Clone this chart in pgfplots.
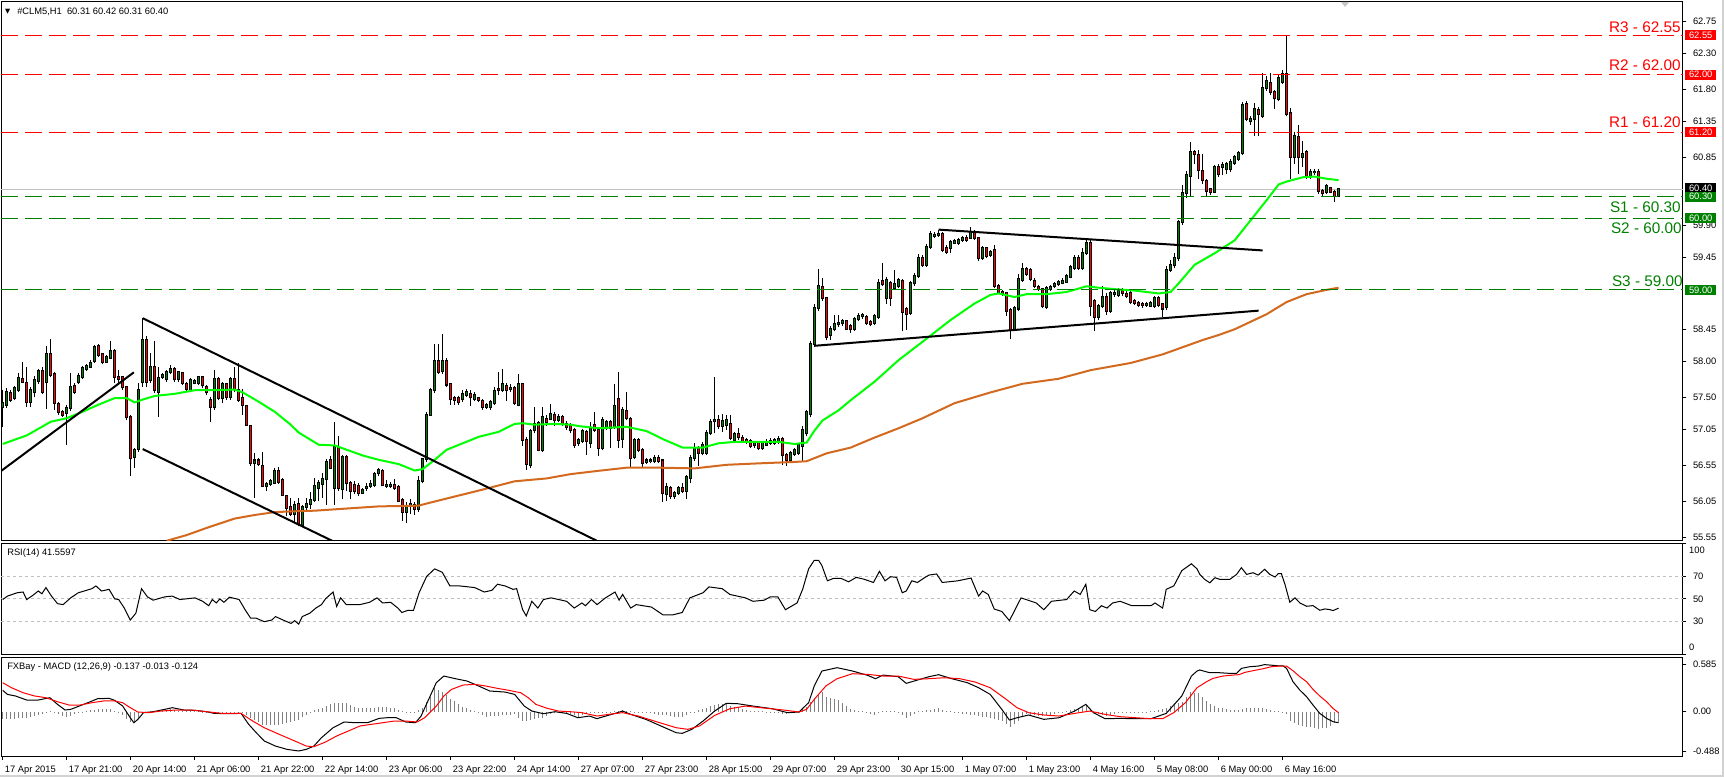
\documentclass[border=0pt]{standalone}
\usepackage{pgfplots}
\pgfplotsset{compat=1.18}
\usepackage{pgfplotstable}
\usepackage{fontspec}
\setmainfont{Liberation Sans}
\newfontfamily\dejavu{DejaVu Sans}
\definecolor{bullc}{RGB}{0,128,0}
\definecolor{bearc}{RGB}{255,0,0}
\definecolor{maf}{RGB}{0,255,0}
\definecolor{mas}{RGB}{210,105,30}
\definecolor{lvlg}{RGB}{0,128,0}
\definecolor{lvlr}{RGB}{255,0,0}
\definecolor{rsil}{RGB}{192,192,192}
\definecolor{histc}{RGB}{128,128,128}
\definecolor{bidl}{RGB}{192,192,192}
\newcommand\mtf{\fontsize{7}{8.4}\selectfont}

\pgfplotstableread{
i o h l c
0 57.37 57.61 57.09 57.42
1 57.40 57.63 57.35 57.58
3 57.49 57.66 57.46 57.63
4 57.61 57.84 57.58 57.77
7 57.44 57.65 57.37 57.60
8 57.58 57.80 57.50 57.74
9 57.73 57.90 57.68 57.87
11 57.72 58.22 57.34 58.10
16 57.28 57.40 56.84 57.35
17 57.35 57.84 57.31 57.65
19 57.71 57.84 57.68 57.80
20 57.78 57.94 57.76 57.91
21 57.89 57.97 57.87 57.94
22 57.93 58.02 57.91 57.98
23 58.01 58.23 57.98 58.20
26 58.00 58.09 57.98 58.06
27 58.05 58.28 58.03 58.15
33 56.67 56.80 56.51 56.77
34 56.78 57.70 56.74 57.61
35 57.71 58.61 57.65 58.30
37 57.74 58.12 57.70 57.92
39 57.58 57.93 57.23 57.77
40 57.79 57.84 57.76 57.81
41 57.75 57.88 57.72 57.86
42 57.85 57.95 57.82 57.90
44 57.75 57.87 57.72 57.85
47 57.61 57.77 57.58 57.74
48 57.70 57.76 57.68 57.73
49 57.70 57.80 57.67 57.78
53 57.37 57.88 57.33 57.75
55 57.49 57.72 57.42 57.68
57 57.51 57.78 57.47 57.75
63 56.58 56.73 56.10 56.62
66 56.27 56.32 56.20 56.29
67 56.29 56.36 56.26 56.33
68 56.31 56.52 56.29 56.47
73 55.88 56.05 55.75 56.00
75 55.72 56.00 55.70 55.97
76 55.97 56.10 55.90 56.02
77 56.02 56.18 55.95 56.07
78 56.07 56.38 56.04 56.26
79 56.23 56.35 56.05 56.30
80 56.29 56.45 56.10 56.36
81 56.36 56.64 56.00 56.60
83 56.23 57.15 56.00 56.81
85 56.22 56.70 56.08 56.67
90 56.17 56.24 56.15 56.21
91 56.24 56.30 56.20 56.25
92 56.27 56.35 56.24 56.29
93 56.28 56.46 56.25 56.43
94 56.44 56.52 56.40 56.49
96 56.27 56.35 56.24 56.28
97 56.26 56.32 56.24 56.28
101 55.90 56.04 55.75 55.98
102 55.98 56.08 55.88 56.02
104 55.94 56.40 55.90 56.34
105 56.34 56.66 56.30 56.64
106 56.64 57.30 56.60 57.26
107 57.26 57.63 57.25 57.61
108 57.60 58.25 57.56 58.01
110 57.87 58.38 57.83 58.01
115 57.48 57.60 57.44 57.55
116 57.54 57.62 57.50 57.57
118 57.48 57.58 57.45 57.54
121 57.37 57.42 57.34 57.39
122 57.37 57.46 57.33 57.43
123 57.42 57.64 57.40 57.59
125 57.61 57.90 57.58 57.68
127 57.62 57.68 57.58 57.63
129 57.40 57.83 57.38 57.69
132 56.56 57.06 56.52 57.03
133 57.04 57.36 57.00 57.13
135 56.76 57.37 56.74 57.22
137 57.20 57.41 57.18 57.27
139 57.19 57.27 57.15 57.23
144 56.86 56.94 56.82 56.90
145 56.89 57.06 56.86 57.03
147 56.87 57.16 56.80 57.07
150 56.79 57.22 56.76 57.18
151 57.08 57.18 57.05 57.15
153 57.09 57.68 57.06 57.38
155 56.92 57.37 56.80 57.32
158 56.67 56.93 56.64 56.90
161 56.60 56.66 56.57 56.62
162 56.61 56.66 56.58 56.62
163 56.61 56.69 56.58 56.66
166 56.15 56.30 56.05 56.25
168 56.12 56.20 56.09 56.17
169 56.17 56.26 56.14 56.23
171 56.20 56.42 56.08 56.39
172 56.38 56.69 56.31 56.66
173 56.65 56.86 56.62 56.79
175 56.73 56.88 56.69 56.83
176 56.73 57.05 56.70 57.01
177 57.01 57.20 56.98 57.15
178 57.17 57.79 57.00 57.18
180 57.10 57.27 57.02 57.17
181 57.11 57.26 57.05 57.18
183 56.91 57.02 56.86 56.99
188 56.83 56.89 56.80 56.86
190 56.79 56.89 56.77 56.86
191 56.84 56.92 56.82 56.87
192 56.87 56.93 56.84 56.89
193 56.87 56.94 56.84 56.90
194 56.88 56.96 56.85 56.92
197 56.63 56.75 56.60 56.72
198 56.71 56.80 56.68 56.76
199 56.73 56.86 56.70 56.83
200 56.82 57.10 56.60 57.05
201 57.00 57.33 56.96 57.30
202 57.27 58.29 57.22 58.25
203 58.25 58.80 58.20 58.74
204 58.75 59.29 58.71 59.05
207 58.37 58.50 58.30 58.46
208 58.45 58.65 58.42 58.52
209 58.52 58.65 58.48 58.54
210 58.54 58.60 58.50 58.56
213 58.46 58.62 58.43 58.59
214 58.59 58.68 58.56 58.64
215 58.63 58.68 58.60 58.65
218 58.54 58.67 58.51 58.64
219 58.62 59.15 58.60 59.10
221 58.88 59.18 58.80 59.14
223 59.03 59.27 59.00 59.08
224 59.05 59.17 59.02 59.14
227 58.68 59.12 58.65 59.09
228 59.09 59.23 59.06 59.20
229 59.19 59.50 59.16 59.44
231 59.35 59.64 59.32 59.60
232 59.60 59.82 59.57 59.78
233 59.75 59.80 59.72 59.77
234 59.76 59.84 59.74 59.78
237 59.58 59.70 59.52 59.67
238 59.66 59.71 59.64 59.68
239 59.66 59.72 59.63 59.70
240 59.69 59.75 59.67 59.72
242 59.73 59.87 59.71 59.81
245 59.44 59.61 59.41 59.58
247 59.49 59.56 59.46 59.53
253 58.45 58.77 58.42 58.74
254 58.74 59.22 58.71 59.15
255 59.14 59.37 59.11 59.29
261 58.76 59.05 58.73 59.02
262 59.01 59.07 58.98 59.04
263 59.05 59.11 59.03 59.08
264 59.08 59.14 59.06 59.11
265 59.10 59.16 59.08 59.13
266 59.11 59.22 59.09 59.19
267 59.18 59.35 59.16 59.32
268 59.31 59.48 59.28 59.45
270 59.31 59.59 59.28 59.52
271 59.51 59.70 59.48 59.66
274 58.62 58.80 58.58 58.77
275 58.77 59.05 58.74 58.90
277 58.71 58.98 58.68 58.95
278 58.94 59.00 58.90 58.96
279 58.93 59.03 58.90 58.99
286 58.79 58.83 58.76 58.80
287 58.78 58.85 58.76 58.82
288 58.78 58.92 58.75 58.89
291 58.76 59.33 58.72 59.28
292 59.28 59.42 59.25 59.35
293 59.34 59.52 59.30 59.45
294 59.44 59.98 59.40 59.95
295 59.94 60.46 59.91 60.35
296 60.35 60.66 60.28 60.60
297 60.59 61.06 60.30 60.92
303 60.37 60.74 60.35 60.71
305 60.72 60.78 60.60 60.74
306 60.68 60.79 60.62 60.76
307 60.68 60.82 60.64 60.79
308 60.77 60.88 60.74 60.85
309 60.83 60.94 60.80 60.91
310 60.91 61.62 60.88 61.58
312 61.35 61.42 61.30 61.38
313 61.38 61.60 61.14 61.52
315 61.43 62.03 61.40 61.82
316 61.82 61.98 61.78 61.91
319 61.66 62.00 61.63 61.95
320 61.90 62.06 61.87 62.01
323 60.85 61.20 60.75 61.15
325 60.85 61.08 60.72 60.89
327 60.59 60.68 60.55 60.65
328 60.64 60.68 60.60 60.65
331 60.37 60.48 60.33 60.45
334 60.31 60.42 60.31 60.40
}\bull

\pgfplotstableread{
i o h l c
2 57.56 57.60 57.44 57.47
5 57.75 58.00 57.70 57.72
6 57.70 57.93 57.37 57.43
10 57.87 57.93 57.55 57.58
12 58.10 58.31 57.78 57.81
13 57.82 57.86 57.33 57.42
14 57.41 57.44 57.26 57.30
15 57.29 57.32 57.22 57.26
18 57.66 57.70 57.55 57.58
24 58.21 58.25 58.07 58.09
25 58.10 58.12 57.97 58.00
28 58.15 58.17 57.70 57.78
29 57.79 57.88 57.70 57.75
30 57.78 57.80 57.60 57.64
31 57.64 57.66 57.19 57.22
32 57.23 57.25 56.40 56.65
36 58.30 58.35 57.65 57.71
38 57.92 58.28 57.56 57.60
43 57.90 57.93 57.72 57.75
45 57.84 57.86 57.67 57.70
46 57.69 57.71 57.58 57.62
50 57.78 57.80 57.63 57.67
51 57.64 57.67 57.54 57.57
52 57.47 57.50 57.15 57.37
54 57.75 57.78 57.46 57.49
56 57.68 57.70 57.47 57.51
58 57.75 57.92 57.58 57.62
59 57.61 57.98 57.44 57.47
60 57.49 57.62 57.26 57.40
61 57.38 57.40 57.10 57.12
62 57.10 57.12 56.55 56.59
64 56.62 56.66 56.54 56.57
65 56.55 56.74 56.25 56.27
69 56.48 56.53 56.29 56.32
70 56.35 56.37 56.12 56.14
71 56.12 56.14 55.85 55.96
72 55.97 56.10 55.84 55.88
74 56.02 56.10 55.70 55.74
82 56.63 56.68 56.50 56.52
84 56.81 56.96 56.20 56.23
86 56.67 56.70 56.20 56.30
87 56.30 56.33 56.08 56.20
88 56.28 56.33 56.15 56.20
89 56.27 56.30 56.12 56.16
95 56.47 56.50 56.26 56.28
98 56.28 56.36 56.21 56.23
99 56.25 56.28 56.04 56.06
100 56.07 56.10 55.78 55.90
103 56.00 56.04 55.86 55.94
109 58.01 58.24 57.83 57.86
111 58.01 58.05 57.65 57.68
112 57.68 57.70 57.40 57.48
113 57.49 57.52 57.40 57.47
114 57.49 57.52 57.40 57.43
117 57.55 57.60 57.38 57.50
119 57.49 57.51 57.44 57.47
120 57.45 57.48 57.33 57.36
124 57.62 57.85 57.53 57.60
126 57.66 57.70 57.45 57.60
128 57.63 57.66 57.40 57.42
130 57.68 57.70 56.82 56.91
131 56.91 56.95 56.49 56.57
134 57.14 57.17 56.75 56.77
136 57.20 57.25 57.10 57.16
138 57.26 57.30 57.10 57.19
140 57.22 57.26 57.10 57.13
141 57.13 57.17 57.05 57.09
142 57.11 57.14 57.00 57.04
143 57.05 57.07 56.80 56.84
146 57.02 57.05 56.70 56.89
148 57.11 57.30 57.02 57.05
149 57.05 57.08 56.68 56.79
152 57.15 57.18 56.80 57.08
154 57.48 57.85 56.80 56.91
156 57.31 57.57 57.18 57.21
157 57.20 57.22 56.52 56.66
159 56.90 56.93 56.74 56.77
160 56.76 56.79 56.52 56.58
164 56.66 56.69 56.58 56.61
165 56.62 56.64 56.04 56.16
167 56.24 56.27 56.08 56.12
170 56.24 56.30 56.16 56.20
174 56.79 56.82 56.55 56.73
179 57.19 57.26 57.06 57.10
182 57.13 57.26 56.90 56.93
184 56.99 57.07 56.91 56.95
185 56.94 56.97 56.86 56.89
186 56.90 56.93 56.85 56.88
187 56.89 56.92 56.80 56.82
189 56.86 56.89 56.76 56.79
195 56.92 56.95 56.56 56.69
196 56.70 56.73 56.55 56.63
205 59.04 59.17 58.85 58.89
206 58.88 58.90 58.30 58.34
211 58.56 58.58 58.44 58.46
212 58.49 58.52 58.40 58.45
216 58.62 58.65 58.51 58.54
217 58.55 58.58 58.49 58.52
220 59.12 59.37 59.05 59.08
222 59.09 59.12 58.78 58.88
225 59.12 59.15 58.42 58.69
226 58.73 58.76 58.44 58.67
230 59.44 59.48 59.32 59.35
235 59.78 59.81 59.53 59.56
236 59.59 59.62 59.50 59.53
241 59.73 59.76 59.67 59.70
243 59.81 59.84 59.69 59.72
244 59.72 59.74 59.40 59.44
246 59.58 59.60 59.44 59.47
248 59.56 59.63 59.02 59.05
249 59.05 59.08 58.94 58.97
250 58.97 59.00 58.92 58.95
251 58.95 58.97 58.64 58.71
252 58.72 58.75 58.31 58.44
256 59.29 59.32 59.19 59.22
257 59.28 59.30 59.12 59.15
258 59.13 59.16 59.03 59.06
259 59.04 59.07 58.98 59.01
260 59.01 59.03 58.74 58.77
269 59.45 59.48 59.28 59.31
272 59.66 59.70 58.63 58.77
273 58.84 58.87 58.43 58.62
276 58.90 58.95 58.65 58.71
280 58.99 59.02 58.91 58.95
281 58.94 58.98 58.88 58.92
282 58.96 58.98 58.80 58.83
283 58.84 58.87 58.79 58.82
284 58.81 58.84 58.76 58.79
285 58.80 58.83 58.75 58.79
289 58.89 58.92 58.76 58.79
290 58.80 58.82 58.62 58.74
298 60.92 60.95 60.75 60.89
299 60.88 60.95 60.55 60.67
300 60.66 60.90 60.48 60.53
301 60.52 60.55 60.30 60.38
302 60.40 60.42 60.32 60.36
304 60.72 60.75 60.58 60.62
311 61.59 61.64 61.35 61.38
314 61.51 61.55 61.15 61.45
317 61.89 62.03 61.72 61.76
318 61.76 61.79 61.52 61.67
321 62.01 62.55 61.42 61.45
322 61.46 61.53 60.55 60.85
324 61.13 61.30 60.62 60.85
326 60.92 60.95 60.55 60.59
329 60.65 60.68 60.33 60.38
330 60.38 60.40 60.30 60.35
332 60.42 60.44 60.35 60.37
333 60.37 60.39 60.23 60.31
}\bear

\pgfplotsset{
  mt4/.style={
    scale only axis, width=1261.5pt,
    xmin=-0.425, xmax=420.1,
    axis line style={line width=0.75pt},
    ytick pos=right, yticklabel pos=right,
    tick align=outside, major tick length=2.5pt,
    tick style={black, line width=0.6pt},
    yticklabel style={font=\mtf, anchor=west, xshift=1.5pt},
    xtick=\empty,
    clip mode=individual,
    anchor=north west,
  }
}

\begin{document}
\begin{tikzpicture}
\path[use as bounding box, fill=white] (0,0) rectangle (1293pt,582.75pt);

% ---------------- main price panel ----------------
\begin{axis}[mt4, at={(0.75pt,581.25pt)}, height=404.0pt,
  ymin=55.502, ymax=63.015,
  ytick={55.55,56.05,56.55,57.05,57.50,58.00,58.45,59.45,59.90,60.85,61.35,61.80,62.30,62.75},
  yticklabels={55.55,56.05,56.55,57.05,57.50,58.00,58.45,59.45,59.90,60.85,61.35,61.80,62.30,62.75}]
\addplot[bidl, line width=0.75pt] coordinates {(-0.425,60.40)(420.1,60.40)};
% candles: wicks
\addplot[-, black, line width=0.75pt, quiver={u=0, v=\thisrow{h}-\thisrow{l}}] table[x=i, y=l] {\bull};
\addplot[-, black, line width=0.75pt, quiver={u=0, v=\thisrow{h}-\thisrow{l}}] table[x=i, y=l] {\bear};
% candles: body outlines
\addplot[-, black, line width=2.25pt, quiver={u=0, v=\thisrow{c}-\thisrow{o}+0.028}] table[x=i, y expr=\thisrow{o}-0.014] {\bull};
\addplot[-, black, line width=2.25pt, quiver={u=0, v=\thisrow{o}-\thisrow{c}+0.028}] table[x=i, y expr=\thisrow{c}-0.014] {\bear};
% candles: body fill
\addplot[-, bullc, line width=1.1pt, quiver={u=0, v=\thisrow{c}-\thisrow{o}}] table[x=i, y=o] {\bull};
\addplot[-, bearc, line width=1.1pt, quiver={u=0, v=\thisrow{o}-\thisrow{c}}] table[x=i, y=c] {\bear};
% moving averages
\addplot[mas, line width=1.5pt] coordinates {(41,55.50)(46,55.58)(51,55.68)(58,55.81)(63,55.86)(68,55.90)(72,55.91)(78,55.92)(86,55.95)(94,55.98)(104,55.99)(106,56.02)(111,56.09)(119,56.20)(128,56.33)(136,56.37)(142,56.43)(148,56.47)(156,56.52)(164,56.52)(173,56.51)(181,56.56)(189,56.58)(198,56.60)(201,56.61)(206,56.72)(212,56.80)(218,56.94)(224,57.07)(230,57.21)(238,57.42)(247,57.57)(255,57.69)(264,57.76)(272,57.88)(282,57.98)(286,58.04)(290,58.10)(295,58.20)(300,58.30)(304,58.37)(308,58.45)(316,58.66)(321,58.83)(326,58.94)(331,59.00)(334,59.03)};
\addplot[maf, line width=1.5pt] coordinates {(0,56.85)(6,56.97)(12,57.16)(16,57.21)(20,57.30)(24,57.40)(28,57.49)(31,57.49)(33,57.43)(35,57.47)(38,57.52)(43,57.55)(48,57.60)(53,57.60)(58,57.61)(60,57.57)(64,57.44)(68,57.30)(72,57.12)(74,57.01)(79,56.84)(83,56.83)(86,56.77)(90,56.69)(94,56.63)(99,56.57)(103,56.48)(105,56.50)(108,56.63)(111,56.77)(115,56.86)(119,56.95)(124,57.02)(128,57.13)(130,57.14)(133,57.12)(138,57.13)(142,57.12)(144,57.10)(149,57.07)(156,57.09)(161,57.03)(165,56.92)(170,56.80)(175,56.80)(179,56.86)(183,56.88)(189,56.88)(194,56.88)(198,56.85)(201,56.87)(203,57.04)(205,57.18)(209,57.32)(212,57.46)(218,57.72)(224,58.02)(231,58.32)(237,58.58)(243,58.81)(247,58.93)(249,58.95)(253,58.90)(256,58.94)(261,58.94)(266,58.97)(271,59.05)(274,59.03)(278,59.01)(283,58.99)(289,58.95)(292,58.97)(294,59.09)(298,59.35)(303,59.51)(308,59.69)(312,59.97)(316,60.25)(319,60.47)(321,60.51)(325,60.57)(328,60.58)(331,60.55)(334,60.53)};
% trend lines
\addplot[black, line width=1.5pt] coordinates {(-0.25,56.48)(32.8,57.85)};
\addplot[black, line width=1.5pt] coordinates {(35,58.605)(148.5,55.502)};
\addplot[black, line width=1.5pt] coordinates {(35,56.78)(82.3,55.502)};
\addplot[black, line width=1.5pt] coordinates {(234,59.84)(315,59.55)};
\addplot[black, line width=1.5pt] coordinates {(203,58.22)(314,58.71)};
% support / resistance levels
\addplot[lvlr, line width=0.75pt, dash pattern=on 12.75pt off 5.25pt] coordinates {(-0.425,62.55)(420.1,62.55)};
\addplot[lvlr, line width=0.75pt, dash pattern=on 12.75pt off 5.25pt] coordinates {(-0.425,62.00)(420.1,62.00)};
\addplot[lvlr, line width=0.75pt, dash pattern=on 12.75pt off 5.25pt] coordinates {(-0.425,61.20)(420.1,61.20)};
\addplot[lvlg, line width=0.75pt, dash pattern=on 12.75pt off 5.25pt] coordinates {(-0.425,60.30)(420.1,60.30)};
\addplot[lvlg, line width=0.75pt, dash pattern=on 12.75pt off 5.25pt] coordinates {(-0.425,60.00)(420.1,60.00)};
\addplot[lvlg, line width=0.75pt, dash pattern=on 12.75pt off 5.25pt] coordinates {(-0.425,59.00)(420.1,59.00)};
\coordinate (tR3) at (axis cs:420.1,62.55);
\coordinate (tR2) at (axis cs:420.1,62.00);
\coordinate (tR1) at (axis cs:420.1,61.20);
\coordinate (tBid) at (axis cs:420.1,60.40);
\coordinate (tS1) at (axis cs:420.1,60.30);
\coordinate (tS2) at (axis cs:420.1,60.00);
\coordinate (tS3) at (axis cs:420.1,59.00);
\end{axis}

% ---------------- RSI panel ----------------
\begin{axis}[mt4, at={(0.75pt,175.275pt)}, height=83.775pt,
  ymin=-0.7, ymax=100.2,
  ytick={0,30,50,70,100}, yticklabels={,30,50,70,}]
\addplot[rsil, line width=0.75pt, dash pattern=on 2.25pt off 2.25pt] coordinates {(-0.425,70)(420.1,70)};
\addplot[rsil, line width=0.75pt, dash pattern=on 2.25pt off 2.25pt] coordinates {(-0.425,50)(420.1,50)};
\addplot[rsil, line width=0.75pt, dash pattern=on 2.25pt off 2.25pt] coordinates {(-0.425,30)(420.1,30)};
\addplot[black, line width=0.75pt] coordinates {(0,49.4)(1.2,52.5)(3.6,55.5)(5.1,56.2)(6,49.4)(7.5,53.1)(8.9,57.1)(9.8,54.6)(10.8,60.2)(12.2,52.5)(13.7,45.7)(15.1,44.8)(17,50.9)(18.9,55.5)(22.3,59.2)(23.3,61.7)(24.7,57.1)(26.6,58.6)(28,50.0)(29,49.4)(30.4,41.7)(31.9,30.9)(33.3,37.1)(34.7,59.2)(36.2,51.8)(37.6,48.8)(40.5,51.8)(42.4,52.5)(44.3,49.4)(48.1,50.9)(50,47.8)(51.5,43.8)(52.4,49.4)(53.4,46.3)(54.3,50.0)(55.3,46.9)(56.7,51.5)(59.1,49.4)(60.6,40.2)(62,32.5)(63.4,32.5)(65.4,29.4)(67.3,30.9)(68.2,34.0)(70.1,30.9)(72.1,27.8)(73,30.3)(74,27.2)(74.9,34.0)(76.8,37.1)(78.3,41.7)(79.7,44.8)(80.7,50.0)(82.6,56.2)(83.5,43.2)(84.5,50.9)(85.9,44.8)(89.3,44.8)(91.7,46.9)(93.6,50.9)(95,46.3)(97,46.9)(98.8,41.7)(99.8,37.7)(101.2,39.5)(102.7,39.5)(104.1,55.5)(106,70.3)(108,77.1)(109.9,74.0)(111.8,61.7)(114.2,61.7)(118,60.2)(120.4,56.2)(122.3,57.7)(123.7,63.2)(125.6,61.7)(127.6,58.6)(128.5,59.2)(130,40.2)(130.9,34.6)(132.3,47.8)(133.8,41.7)(135.2,49.4)(137.1,50.9)(141,47.8)(142.9,41.7)(144.8,46.3)(145.7,43.8)(147.2,49.4)(148.6,44.8)(150.7,50.9)(153.1,56.2)(154.1,48.8)(155,54.0)(157,41.7)(158.4,44.8)(162.2,42.6)(165.1,35.5)(167.5,35.5)(169.9,37.7)(171.8,50.9)(175.1,55.5)(176.6,60.8)(179.9,59.2)(181.8,54.0)(185.7,50.9)(187.6,47.8)(190.4,48.8)(191.9,51.8)(193.8,51.8)(195.7,40.2)(198.6,46.3)(200,58.6)(201.5,77.1)(202.9,84.8)(204,84.8)(204.8,80.2)(206.2,66.3)(207.7,68.5)(209.6,68.5)(211.5,65.4)(213.4,69.4)(215.3,67.8)(217.7,64.8)(219.2,74.9)(220.6,66.3)(222,70.0)(223.5,69.4)(224.9,55.5)(225.9,57.1)(227.3,66.3)(228.7,64.8)(230.6,69.4)(231.6,71.5)(233.5,72.5)(234.9,64.8)(238.8,66.3)(242.1,68.8)(244,52.5)(245,57.1)(246.4,54.0)(247.9,40.8)(249.8,38.6)(251.7,30.3)(253.1,40.2)(254.6,50.9)(258.4,46.3)(260.3,40.2)(262.2,47.8)(266,49.4)(267.9,57.1)(269.4,54.0)(270.8,63.2)(271.8,40.2)(273.2,38.6)(274.7,43.8)(276.1,41.7)(277.5,46.3)(279.4,47.8)(282.3,43.8)(287.1,43.8)(288.1,46.3)(290,41.7)(290.9,58.6)(292.8,61.7)(294.8,75.5)(297.2,81.7)(298.6,77.1)(299.3,72.1)(300.5,67.6)(301.8,64.5)(303.1,69.1)(304.3,67.6)(306.8,67.6)(308.5,72.1)(309.7,78.2)(311,72.1)(312.6,73.6)(313.9,71.5)(315.5,76.7)(316.8,72.1)(318.1,69.7)(318.9,72.7)(319.7,72.7)(320.6,63.0)(321.8,47.0)(323.1,50.9)(324.3,46.4)(326,43.3)(327.6,43.9)(329.3,39.7)(330.6,40.9)(331.8,40.3)(332.6,39.4)(334,41.6)};
\coordinate (r100) at (axis cs:420.1,100);
\coordinate (r0) at (axis cs:420.1,0);
\end{axis}

% ---------------- MACD panel ----------------
\begin{axis}[mt4, at={(0.75pt,89.775pt)}, height=74.55pt,
  ymin=-0.559, ymax=0.676,
  ytick={-0.488,0,0.585}, yticklabels={-0.488,0.00,0.585},
  xtick={0,16,...,320}, xtick pos=bottom,
  xticklabels={17 Apr 2015,17 Apr 21:00,20 Apr 14:00,21 Apr 06:00,21 Apr 22:00,22 Apr 14:00,23 Apr 06:00,23 Apr 22:00,24 Apr 14:00,27 Apr 07:00,27 Apr 23:00,28 Apr 15:00,29 Apr 07:00,29 Apr 23:00,30 Apr 15:00,1 May 07:00,1 May 23:00,4 May 16:00,5 May 08:00,6 May 00:00,6 May 16:00},
  xticklabel style={font=\mtf, anchor=west, inner sep=0pt, xshift=1.5pt, yshift=-7.7pt}]
\addplot[ycomb, histc, line width=0.75pt] coordinates {(0,-0.095)(1,-0.092)(2,-0.088)(3,-0.085)(4,-0.083)(5,-0.082)(6,-0.08)(7,-0.068)(8,-0.057)(9,-0.045)(10,-0.03)(11,-0.015)(12,0.003)(13,-0.015)(14,-0.03)(15,-0.05)(16,-0.07)(17,-0.05)(18,-0.03)(19,-0.017)(20,-0.003)(21,0.01)(22,0.018)(23,0.027)(24,0.035)(25,0.033)(26,0.032)(27,0.03)(28,0.007)(29,-0.017)(30,-0.04)(31,-0.085)(32,-0.13)(33,-0.14)(34,-0.075)(35,-0.01)(36,-0.007)(37,-0.003)(38,0.003)(39,0.008)(40,0.015)(41,0.022)(42,0.03)(43,0.02)(44,0.01)(45,0.003)(46,0.005)(47,0.005)(48,0.004)(49,0.003)(50,0.002)(51,-0.002)(52,-0.003)(53,-0.004)(54,-0.005)(55,-0.004)(56,-0.003)(57,-0.002)(58,-0.002)(59,-0.003)(60,-0.005)(61,-0.04)(62,-0.08)(63,-0.107)(64,-0.133)(65,-0.16)(66,-0.162)(67,-0.165)(68,-0.167)(69,-0.16)(70,-0.152)(71,-0.145)(72,-0.13)(73,-0.115)(74,-0.1)(75,-0.07)(76,-0.04)(77,-0.012)(78,0.015)(79,0.032)(80,0.05)(81,0.07)(82,0.09)(83,0.11)(84,0.11)(85,0.11)(86,0.11)(87,0.087)(88,0.063)(89,0.04)(90,0.04)(91,0.04)(92,0.04)(93,0.047)(94,0.053)(95,0.06)(96,0.053)(97,0.047)(98,0.04)(99,0.023)(100,0.007)(101,-0.01)(102,-0.01)(103,-0.01)(104,0.02)(105,0.05)(106,0.115)(107,0.18)(108,0.29)(109,0.27)(110,0.25)(111,0.205)(112,0.16)(113,0.127)(114,0.093)(115,0.06)(116,0.04)(117,0.02)(118,0.003)(119,-0.02)(120,-0.04)(121,-0.06)(122,-0.057)(123,-0.053)(124,-0.05)(125,-0.045)(126,-0.04)(127,-0.035)(128,-0.03)(129,-0.075)(130,-0.12)(131,-0.11)(132,-0.1)(133,-0.092)(134,-0.083)(135,-0.075)(136,-0.053)(137,-0.032)(138,-0.01)(139,-0.013)(140,-0.017)(141,-0.02)(142,-0.033)(143,-0.047)(144,-0.06)(145,-0.047)(146,-0.033)(147,-0.02)(148,-0.02)(149,-0.02)(150,-0.015)(151,-0.01)(152,-0.005)(153,0.003)(154,0.01)(155,0.02)(156,0.01)(157,0.003)(158,-0.003)(159,-0.003)(160,-0.003)(161,-0.005)(162,-0.015)(163,-0.025)(164,-0.035)(165,-0.04)(166,-0.047)(167,-0.053)(168,-0.06)(169,-0.06)(170,-0.06)(171,-0.04)(172,-0.02)(173,-0.003)(174,0.017)(175,0.035)(176,0.05)(177,0.065)(178,0.08)(179,0.09)(180,0.095)(181,0.09)(182,0.075)(183,0.06)(184,0.045)(185,0.031)(186,0.023)(187,0.014)(188,0.005)(189,0.004)(190,0.003)(191,0.002)(192,-0.002)(193,-0.008)(194,-0.015)(195,-0.023)(196,-0.03)(197,-0.02)(198,-0.01)(199,0.003)(200,0.03)(201,0.06)(202,0.115)(203,0.17)(204,0.21)(205,0.245)(206,0.18)(207,0.167)(208,0.153)(209,0.14)(210,0.103)(211,0.067)(212,0.03)(213,0.02)(214,0.01)(215,0.003)(216,-0.01)(217,-0.028)(218,-0.045)(219,-0.018)(220,0.01)(221,0.008)(222,0.005)(223,0.003)(224,-0.003)(225,-0.04)(226,-0.08)(227,-0.053)(228,-0.027)(229,0.003)(230,0.008)(231,0.017)(232,0.025)(233,0.033)(234,0.04)(235,0.027)(236,0.013)(237,0.003)(238,-0.008)(239,-0.015)(240,-0.023)(241,-0.03)(242,-0.037)(243,-0.043)(244,-0.05)(245,-0.06)(246,-0.07)(247,-0.08)(248,-0.093)(249,-0.107)(250,-0.12)(251,-0.155)(252,-0.19)(253,-0.15)(254,-0.11)(255,-0.07)(256,-0.03)(257,-0.036)(258,-0.043)(259,-0.049)(260,-0.055)(261,-0.046)(262,-0.038)(263,-0.029)(264,-0.02)(265,-0.008)(266,0.005)(267,0.018)(268,0.03)(269,0.047)(270,0.063)(271,0.08)(272,0.035)(273,-0.01)(274,-0.023)(275,-0.037)(276,-0.05)(277,-0.04)(278,-0.03)(279,-0.02)(280,-0.018)(281,-0.015)(282,-0.013)(283,-0.01)(284,-0.008)(285,-0.005)(286,-0.003)(287,0.003)(288,0.013)(289,0.025)(290,0.038)(291,0.05)(292,0.07)(293,0.09)(294,0.103)(295,0.115)(296,0.178)(297,0.24)(298,0.235)(299,0.23)(300,0.183)(301,0.137)(302,0.09)(303,0.07)(304,0.05)(305,0.04)(306,0.03)(307,0.02)(308,0.018)(309,0.016)(310,0.028)(311,0.04)(312,0.045)(313,0.05)(314,0.05)(315,0.05)(316,0.035)(317,0.02)(318,0.013)(319,0.005)(320,-0.013)(321,-0.03)(322,-0.11)(323,-0.14)(324,-0.16)(325,-0.173)(326,-0.187)(327,-0.193)(328,-0.2)(329,-0.21)(330,-0.208)(331,-0.207)(332,-0.18)(333,-0.14)(334,-0.124)};
\addplot[black, line width=0.75pt] coordinates {(0,0.265)(1.2,0.215)(3.2,0.195)(6,0.145)(8.9,0.145)(11.8,0.174)(13.7,0.091)(15.6,0.021)(17,0.029)(18.5,0.058)(21.3,0.112)(23.7,0.161)(26.6,0.166)(28,0.141)(30,0.070)(31.9,-0.075)(32.8,-0.137)(33.8,-0.095)(35.2,-0.012)(37.6,0)(40.5,0.029)(42.4,0.050)(45.3,0.021)(48.1,0.017)(51,0)(52.9,-0.021)(56.7,-0.025)(59.6,-0.021)(61.5,-0.157)(63.4,-0.261)(65.4,-0.364)(68.2,-0.427)(71.1,-0.468)(74,-0.488)(75.9,-0.468)(77.8,-0.427)(79.7,-0.323)(82.6,-0.199)(85.4,-0.128)(88.3,-0.137)(91.2,-0.137)(94.1,-0.083)(96,-0.075)(98.4,-0.075)(100.8,-0.128)(103.2,-0.137)(104.6,-0.054)(106.5,0.153)(108.4,0.360)(110.3,0.443)(113.2,0.410)(116.1,0.381)(119,0.319)(121.8,0.257)(125.6,0.244)(128,0.215)(130.4,0.070)(132.3,0.008)(135.2,-0.025)(138.1,0)(141,-0.021)(143.8,-0.075)(146.7,-0.054)(148.6,-0.087)(149.3,-0.075)(153.1,-0.021)(155,0.008)(157,-0.033)(160.8,-0.095)(164.6,-0.178)(168.4,-0.261)(169.9,-0.269)(172.3,-0.219)(175.1,-0.116)(178,0.008)(180.9,0.104)(183.8,0.099)(187.6,0.070)(192.4,0.037)(196.2,-0.012)(199.1,-0.004)(201.5,0.112)(202.9,0.319)(204.8,0.505)(208.6,0.547)(212.5,0.505)(216.3,0.451)(218.2,0.410)(220.1,0.455)(223.9,0.435)(225.9,0.352)(228.7,0.393)(231.6,0.435)(234,0.460)(237.3,0.410)(241.2,0.360)(244,0.298)(246.9,0.215)(249.8,0.029)(251.7,-0.104)(253.6,-0.075)(256.5,-0.041)(260.3,-0.095)(264.1,-0.075)(268,0.008)(270.8,0.091)(272.7,-0.012)(275.6,-0.087)(279.4,-0.083)(283.3,-0.087)(287.1,-0.087)(290.9,-0.021)(294.8,0.195)(297.2,0.443)(298.6,0.505)(299.3,0.518)(301.8,0.484)(304.3,0.484)(306.8,0.476)(308.5,0.476)(309.7,0.538)(311.8,0.559)(313.9,0.567)(315.5,0.585)(317.2,0.578)(318.9,0.570)(320.1,0.570)(321,0.538)(322.6,0.373)(324.3,0.269)(326,0.186)(327.6,0.083)(329.3,-0.021)(331,-0.083)(332.6,-0.124)(334,-0.137)};
\addplot[red, line width=0.75pt] coordinates {(0,0.360)(2.2,0.298)(5.1,0.236)(8,0.195)(10.8,0.174)(13.7,0.124)(16.6,0.083)(19.4,0.083)(22.3,0.112)(25.2,0.133)(28,0.133)(30,0.112)(31.9,0.050)(33.8,-0.004)(36.6,-0.012)(39.5,0.008)(43.3,0.021)(47.2,0.021)(51,0)(54.8,-0.021)(59.6,-0.021)(62.5,-0.116)(65.4,-0.199)(68.2,-0.261)(71.1,-0.323)(74,-0.385)(75.9,-0.427)(77.8,-0.435)(80.7,-0.377)(83.5,-0.302)(86.4,-0.240)(89.3,-0.178)(92.2,-0.157)(95,-0.137)(97.9,-0.116)(100.8,-0.116)(103.6,-0.128)(105.5,-0.075)(108.4,0.070)(110.3,0.195)(112.2,0.277)(115.1,0.331)(118,0.340)(120.8,0.319)(123.7,0.290)(126.6,0.265)(129.5,0.236)(131.4,0.174)(133.3,0.091)(136.2,0.041)(139,0.008)(141.9,0)(144.8,-0.012)(148.6,-0.054)(152,-0.03)(155,-0.012)(158.9,-0.054)(163.7,-0.128)(168.4,-0.199)(171.3,-0.219)(174.2,-0.178)(178,-0.046)(181.8,0.037)(185.7,0.070)(189.5,0.050)(195.2,0.021)(199.1,-0.004)(201,0.029)(202.9,0.153)(205.8,0.319)(208.6,0.410)(212.5,0.472)(216.3,0.464)(220.1,0.443)(223.9,0.443)(227.8,0.402)(231.6,0.410)(235.4,0.422)(239.3,0.410)(243.1,0.369)(246.9,0.298)(250.7,0.161)(253.6,0.050)(256.5,-0.012)(260.3,-0.041)(264.1,-0.054)(268,-0.021)(271.8,0.008)(275.6,-0.033)(279.4,-0.062)(283.3,-0.075)(287.1,-0.087)(290,-0.087)(292.8,-0.012)(295.7,0.112)(298.6,0.298)(301,0.373)(302.6,0.414)(305.1,0.443)(307.6,0.455)(309.1,0.460)(310.6,0.489)(312.6,0.509)(315.1,0.534)(317.2,0.559)(319.3,0.567)(321,0.567)(322.6,0.509)(324.3,0.435)(326,0.373)(327.6,0.277)(329.3,0.195)(331,0.124)(332.6,0.041)(334,-0.013)};
\end{axis}

% ---------------- texts and tags ----------------
\node[anchor=west, inner sep=0pt, text=black] at (3.6pt,573.75pt) {\dejavu\fontsize{5}{6}\selectfont ▼};
\node[anchor=west, inner sep=0pt, font=\mtf] at (12.75pt,573.75pt) {\#CLM5,H1\ \ 60.31 60.42 60.31 60.40};
\node[anchor=west, inner sep=0pt, font=\mtf] at (5.25pt,168pt) {RSI(14) 41.5597};
\node[anchor=west, inner sep=0pt, font=\mtf] at (5.25pt,82.5pt) {FXBay - MACD (12,26,9) -0.137 -0.013 -0.124};
\fill[gray!45] (1005.75pt,581.25pt) -- (1011.75pt,581.25pt) -- (1008.75pt,577.5pt) -- cycle;

\node[anchor=base east, inner sep=0pt, text=lvlr, font=\fontsize{11.5}{13}\selectfont] at (1260.75pt,558.5pt) {R3 - 62.55};
\node[anchor=base east, inner sep=0pt, text=lvlr, font=\fontsize{11.5}{13}\selectfont] at (1260.75pt,529.7pt) {R2 - 62.00};
\node[anchor=base east, inner sep=0pt, text=lvlr, font=\fontsize{11.5}{13}\selectfont] at (1260.75pt,487.3pt) {R1 - 61.20};
\node[anchor=base east, inner sep=0pt, text=lvlg, font=\fontsize{11.5}{13}\selectfont] at (1260.75pt,423.5pt) {S1 - 60.30};
\node[anchor=base east, inner sep=0pt, text=lvlg, font=\fontsize{11.5}{13}\selectfont] at (1261.5pt,407.8pt) {S2 - 60.00};
\node[anchor=base east, inner sep=0pt, text=lvlg, font=\fontsize{11.5}{13}\selectfont] at (1262.25pt,367.7pt) {S3 - 59.00};

\tikzset{tag/.style={anchor=west, inner sep=0pt, minimum width=23.25pt, minimum height=7.5pt, text=white, font=\mtf}}
\node[tag, fill=lvlr] at ([xshift=1.5pt]tR3) {62.55};
\node[tag, fill=lvlr] at ([xshift=1.5pt]tR2) {62.00};
\node[tag, fill=lvlr] at ([xshift=1.5pt]tR1) {61.20};
\node[tag, fill=black] at ([xshift=1.5pt,yshift=1pt]tBid) {60.40};
\node[tag, fill=lvlg] at ([xshift=1.5pt]tS1) {60.30};
\node[tag, fill=lvlg] at ([xshift=1.5pt]tS2) {60.00};
\node[tag, fill=lvlg] at ([xshift=1.5pt]tS3) {59.00};

\node[anchor=west, inner sep=0pt, font=\mtf] at ([xshift=4.5pt,yshift=-5pt]r100) {100};
\node[anchor=west, inner sep=0pt, font=\mtf] at ([xshift=4.5pt,yshift=5.25pt]r0) {0};

\draw[gray!35, line width=1.5pt] (0,0.75pt) -- (1293pt,0.75pt);
\draw[gray!35, line width=1.5pt] (1292.25pt,0) -- (1292.25pt,582.75pt);
\end{tikzpicture}
\end{document}
